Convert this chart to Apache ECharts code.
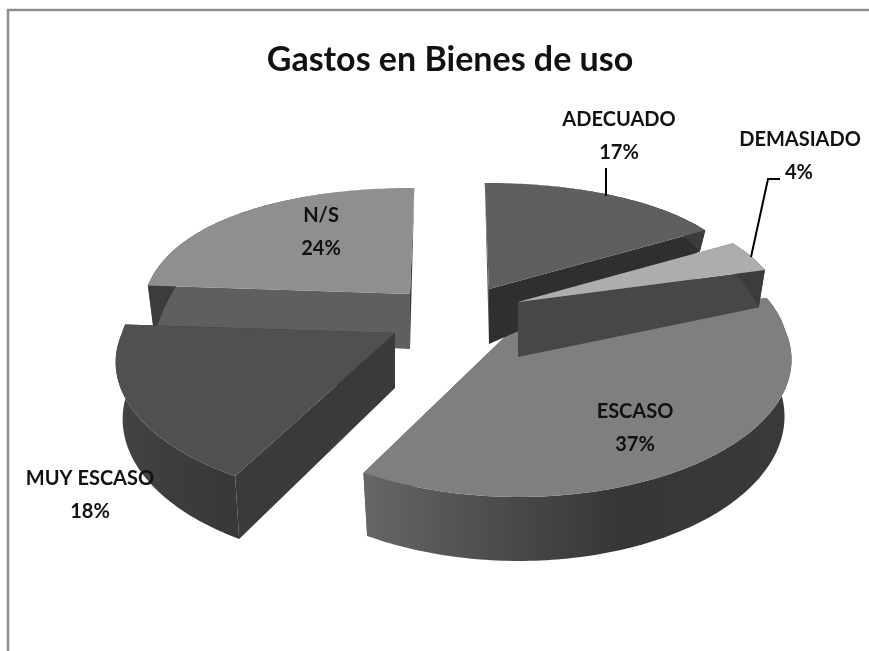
<!DOCTYPE html>
<html><head><meta charset="utf-8">
<style>html,body{margin:0;padding:0;background:#fff}#c{width:869px;height:651px}</style>
<script src="https://cdn.jsdelivr.net/npm/echarts@6/dist/echarts.min.js"></script>
</head><body><div id="c"></div>
<script>
const titleText = 'Gastos en Bienes de uso';
const categories = ['ADECUADO', 'DEMASIADO', 'ESCASO', 'MUY ESCASO', 'N/S'];
const values = [17, 4, 37, 18, 24];

// Layout and styles of the 3D projection (not data)
const apex = [[489,289],[518,302],[512,330],[395,333],[410,294]];
const radiusScale = [1,1,1.03,1.03,1];
const paintOrder = [2,3,1,4,0];
const topFill = ['#5f5f5f','#adadad','#7f7f7f','#505050','#8f8f8f'];
const startWall = ['#5a5a5a','#6a6a6a','#5c5c5c','#3a3a3a','#5f5f5f'];
const endWall = ['#2f2f2f','#474747','#444444','#3a3a3a','#3a3a3a'];
const labelPos = [[619,120],[800,140],[635,412],[90,479],[321,216]];
const LINE = 32.5, R = 265, RB = 136.5, PERSP_Y = 0.223, PERSP_BACK = 0.124, PERSP_FRONT = 0.2, VX = 450, TILT = 0.11, INSET = 0.975;

const total = values.reduce((a,b)=>a+b,0);
function project(i, deg){
  const t = deg*Math.PI/180, u = Math.sin(t), v = -Math.cos(t);
  const [ax,ay] = apex[i], k = v<0?PERSP_BACK:PERSP_FRONT, s = radiusScale[i];
  return [ax + s*R*u*(1+k*v) + (ax-VX)*TILT*v, ay + RB*v*(1+PERSP_Y*v), v, u];
}
function depth(v){ return Math.max(0, v>0 ? 55+9*v : 55+70*v); }
function lower(i, p){
  const ax = apex[i][0];
  return [ax+(p[0]-ax)*INSET, p[1]+depth(p[2])];
}
function renderSlice(params, api){
  const i = params.dataIndex;
  let a0 = 0; for(let j=0;j<i;j++) a0 += values[j]/total*360;
  const a1 = a0 + api.value(0)/total*360;
  const rim = []; const n = Math.ceil(a1-a0);
  for(let j=0;j<=n;j++) rim.push(project(i, a0+(a1-a0)*j/n));
  const c = apex[i];
  const cb = [c[0], c[1]+depth(0)];
  const z = paintOrder[i]*10;
  const poly = (pts, fill, zz) => ({type:'polygon', shape:{points:pts}, z2:z+zz, style:{fill, stroke:null}});
  const P = p => [p[0],p[1]];
  const rimB = rim.map(p=>lower(i,p));
  let arcFill = '#3c3c3c';
  if(i===2) arcFill = new echarts.graphic.LinearGradient(0,0,1,0,[
    {offset:0,color:'#666666'},{offset:.3,color:'#4d4d4d'},{offset:.6,color:'#363636'},{offset:1,color:'#3a3a3a'}]);
  if(i===3) arcFill = new echarts.graphic.LinearGradient(0,0,1,0,[
    {offset:0,color:'#444444'},{offset:.5,color:'#3c3c3c'},{offset:1,color:'#383838'}]);
  return {type:'group', children:[
    poly([c,P(rim[0]),rimB[0],cb], startWall[i], 1),
    poly([c,P(rim[n]),rimB[n],cb], endWall[i], 2),
    poly(rim.map(P).concat(rimB.slice().reverse()), arcFill, 3),
    poly([c].concat(rim.map(P)), topFill[i], 4)
  ]};
}
function renderLabel(params, api){
  const i = params.dataIndex, [x,y] = labelPos[i];
  const font = {fontFamily:'Lato', fontWeight:'bold', fontSize:20, fill:'#111', textAlign:'center', textVerticalAlign:'middle'};
  return {type:'group', children:[
    {type:'text', x, y, style:Object.assign({text:categories[i]},font)},
    {type:'text', x:i===1?799:x, y:y+LINE, style:Object.assign({text:Math.round(api.value(0)/total*100)+'%'},font)}
  ]};
}
const chart = echarts.init(document.getElementById('c'), null, {renderer:'canvas'});
chart.setOption({
  animation:false,
  backgroundColor:'#ffffff',
  title:{text:titleText, left:445, top:38, textAlign:'center',
    textStyle:{fontFamily:'Lato', fontWeight:'bold', fontSize:34, color:'#111'}},
  graphic:[
    {type:'polyline', z:5, shape:{points:[[8,651],[8,10],[869,10]]}, style:{stroke:'#8e8e8e', lineWidth:2.5, fill:null}},
    {type:'polyline', z:5, shape:{points:[[606,168],[606,196]]}, style:{stroke:'#000', lineWidth:2, fill:null}},
    {type:'polyline', z:5, shape:{points:[[780,179],[768,179],[751,257]]}, style:{stroke:'#000', lineWidth:2, fill:null}}
  ],
  series:[
    {type:'custom', coordinateSystem:'none', silent:true, z:2, renderItem:renderSlice, data:values.map(v=>[v])},
    {type:'custom', coordinateSystem:'none', silent:true, z:6, renderItem:renderLabel, data:values.map(v=>[v])}
  ]
});
</script></body></html>
